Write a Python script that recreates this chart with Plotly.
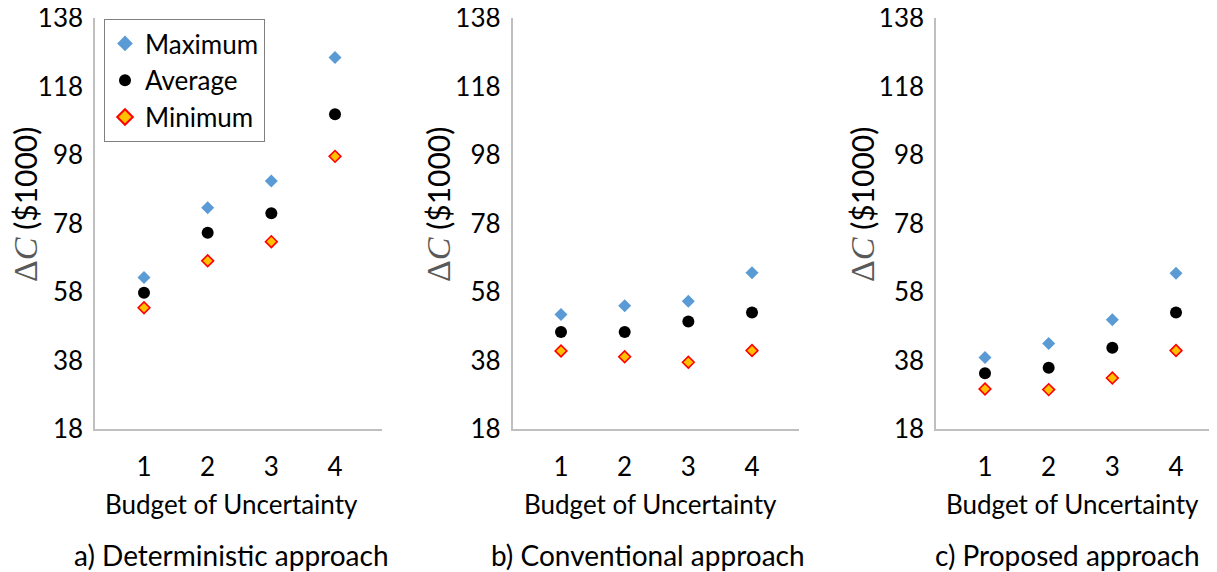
import plotly.graph_objects as go

# The page body has an 8px default margin, so the figure is drawn 8px smaller
# and all reference pixel positions are shifted by that offset.
OFF = 8
W, H = 1217 - OFF, 572 - OFF

budget = [1, 2, 3, 4]
y_ticks = [18, 38, 58, 78, 98, 118, 138]

det_max = [62.2, 82.6, 90.4, 126.5]
det_avg = [57.8, 75.3, 81.0, 109.9]
det_min = [53.4, 67.1, 72.7, 97.6]

conv_max = [51.4, 54.0, 55.3, 63.6]
conv_avg = [46.3, 46.3, 49.4, 52.0]
conv_min = [40.8, 39.1, 37.5, 40.9]

prop_max = [38.9, 43.0, 49.9, 63.5]
prop_avg = [34.3, 35.9, 41.7, 52.0]
prop_min = [29.7, 29.5, 32.9, 40.9]

panels = [
    ("a) Deterministic approach", det_max, det_avg, det_min),
    ("b) Conventional approach", conv_max, conv_avg, conv_min),
    ("c) Proposed approach", prop_max, prop_avg, prop_min),
]

FONT = "Lato, 'Open Sans', sans-serif"


def fx(px):
    return (px - OFF) / W


def fy(py):
    return 1 - (py - OFF) / H


# pixel geometry of each panel (reference screen pixels)
px_left = [95, 512.5, 936]
px_right = [381.7, 799, 1217]
xtitle_cx = [231, 650, 1072]
sub_cx = [231, 648, 1067]
ytitle_cx = [26, 439, 863]
cat_first = [144, 561, 985]
unit_px = 63.67

y_top_px, y_bot_px = 18, 429

fig = go.Figure()
layout = dict(
    width=W, height=H,
    margin=dict(l=0, r=0, t=0, b=0, autoexpand=False),
    paper_bgcolor="white", plot_bgcolor="white",
    font=dict(family=FONT, size=26, color="black"),
    showlegend=True,
    legend=dict(
        x=fx(104), y=fy(19), xanchor="left", yanchor="top",
        bordercolor="#7f7f7f", borderwidth=1, bgcolor="white",
        font=dict(family=FONT, size=26, color="black"),
        itemsizing="constant", tracegroupgap=0,
    ),
    annotations=[],
)

ytitle = ("<span style=\"font-family:'Liberation Serif';font-size:34px;color:#595959\">Δ<i>C</i></span>"
          " ($1000)")

for i, (sub, mx, av, mn) in enumerate(panels):
    k = "" if i == 0 else str(i + 1)
    xa, ya = "x" + k, "y" + k
    show = i == 0
    fig.add_trace(go.Scatter(
        x=budget, y=mx, mode="markers", name="Maximum", xaxis=xa, yaxis=ya,
        showlegend=show, legendgroup="max",
        marker=dict(symbol="diamond", size=10, color="#5B9BD5", line=dict(width=0)),
    ))
    fig.add_trace(go.Scatter(
        x=budget, y=av, mode="markers", name="Average", xaxis=xa, yaxis=ya,
        showlegend=show, legendgroup="avg",
        marker=dict(symbol="circle", size=12, color="black", line=dict(width=0)),
    ))
    fig.add_trace(go.Scatter(
        x=budget, y=mn, mode="markers", name="Minimum", xaxis=xa, yaxis=ya,
        showlegend=show, legendgroup="min",
        marker=dict(symbol="diamond", size=9, color="#FFC000", line=dict(width=1.6, color="#FF0000")),
    ))

    x0 = 1 - (cat_first[i] - px_left[i]) / unit_px
    x1 = 1 + (px_right[i] - cat_first[i]) / unit_px
    layout["xaxis" + k] = dict(
        domain=[fx(px_left[i]), min(1.0, fx(px_right[i]))], range=[x0, x1], anchor=ya,
        tickvals=budget, ticktext=[str(b) for b in budget], automargin=False,
        showgrid=False, zeroline=False, showline=True, linecolor="#BFBFBF", linewidth=1.5,
        ticks="", ticklabelstandoff=14, ticklabeloverflow="allow",
        tickfont=dict(size=26, family=FONT),
    )
    layout["yaxis" + k] = dict(
        domain=[fy(y_bot_px), fy(y_top_px)], range=[18, 138], anchor=xa,
        tickvals=y_ticks, showgrid=False, zeroline=False, showline=True, automargin=False,
        linecolor="#BFBFBF", linewidth=1.5, ticks="", ticklabelstandoff=5,
        ticklabeloverflow="allow", tickfont=dict(size=26, family=FONT),
    )
    layout["annotations"].append(dict(
        text="Budget of Uncertainty", x=fx(xtitle_cx[i]), y=fy(504),
        xref="paper", yref="paper", showarrow=False, xanchor="center", yanchor="middle",
        font=dict(size=26, family=FONT),
    ))
    layout["annotations"].append(dict(
        text=sub, x=fx(sub_cx[i]), y=fy(555),
        xref="paper", yref="paper", showarrow=False, xanchor="center", yanchor="middle",
        font=dict(size=28, family=FONT),
    ))
    layout["annotations"].append(dict(
        text=ytitle, x=fx(ytitle_cx[i]), y=fy(205), textangle=-90,
        xref="paper", yref="paper", showarrow=False, xanchor="center", yanchor="middle",
        font=dict(size=30, family=FONT),
    ))

fig.update_layout(**layout)
fig.write_html("out.html")
